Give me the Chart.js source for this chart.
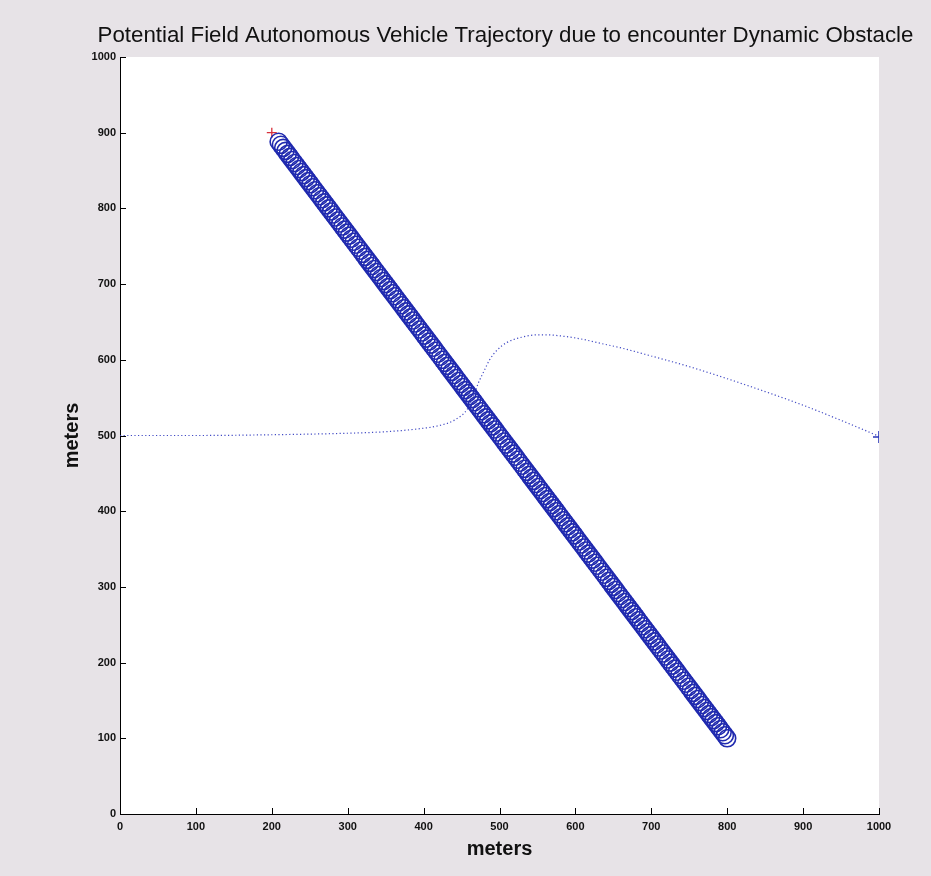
<!DOCTYPE html>
<html>
<head>
<meta charset="utf-8">
<script src="https://cdn.jsdelivr.net/npm/chart.js@4/dist/chart.umd.min.js"></script>
<style>
  html, body { margin: 0; padding: 0; background: #e7e3e7; }
  #wrap { width: 931px; height: 876px; }
</style>
</head>
<body>
<div id="wrap"><canvas id="chart" width="931" height="876"></canvas></div>
<script>
// vehicle path (dotted)
const vehicleX = [0, 100, 200, 300, 350, 395, 420, 440, 457, 465, 472, 480, 487, 497, 510, 530, 550, 562, 585, 610, 632, 659, 700, 750, 800, 850, 900, 950, 1000];
const vehicleY = [500, 500, 501, 503, 505, 509, 513, 520, 534, 550, 569, 586, 600, 613, 623, 630, 633, 633, 631, 627, 622, 616, 605, 591, 575, 558, 540, 520, 499];

// dynamic obstacle positions (circles)
const obstacleX = [209,212,215,218,221,224,227,230,233,236,239,242,245,248,251,254,257,260,263,266,269,272,275,278,281,284,287,290,293,296,299,302,305,308,311,314,317,320,323,326,329,332,335,338,341,344,347,350,353,356,359,362,365,368,371,374,377,380,383,386,389,392,395,398,401,404,407,410,413,416,419,422,425,428,431,434,437,440,443,446,449,452,455,458,461,464,467,470,473,476,479,482,485,488,491,494,497,500,503,506,509,512,515,518,521,524,527,530,533,536,539,542,545,548,551,554,557,560,563,566,569,572,575,578,581,584,587,590,593,596,599,602,605,608,611,614,617,620,623,626,629,632,635,638,641,644,647,650,653,656,659,662,665,668,671,674,677,680,683,686,689,692,695,698,701,704,707,710,713,716,719,722,725,728,731,734,737,740,743,746,749,752,755,758,761,764,767,770,773,776,779,782,785,788,791,794,797,800];
const obstacleY = [888,884,880,876,872,868,864,860,856,852,848,844,840,836,832,828,824,820,816,812,808,804,800,796,792,788,784,780,776,772,768,764,760,756,752,748,744,740,736,732,728,724,720,716,712,708,704,700,696,692,688,684,680,676,672,668,664,660,656,652,648,644,640,636,632,628,624,620,616,612,608,604,600,596,592,588,584,580,576,572,568,564,560,556,552,548,544,540,536,532,528,524,520,516,512,508,504,500,496,492,488,484,480,476,472,468,464,460,456,452,448,444,440,436,432,428,424,420,416,412,408,404,400,396,392,388,384,380,376,372,368,364,360,356,352,348,344,340,336,332,328,324,320,316,312,308,304,300,296,292,288,284,280,276,272,268,264,260,256,252,248,244,240,236,232,228,224,220,216,212,208,204,200,196,192,188,184,180,176,172,168,164,160,156,152,148,144,140,136,132,128,124,120,116,112,108,104,100];

// start markers
const obstacleStart = [{ x: 200, y: 900 }];
const vehicleGoal = [{ x: 1000, y: 498 }];

const axisMin = 0;
const axisMax = 1000;
const axisStep = 100;

const titleText = 'Potential Field Autonomous Vehicle Trajectory due to encounter Dynamic Obstacle';
const xLabel = 'meters';
const yLabel = 'meters';

const toPoints = (xs, ys) => xs.map((x, i) => ({ x: x, y: ys[i] }));

// gray figure background + white axes box
const backgroundPlugin = {
    id: 'figureBg',
    beforeDraw(chart) {
        const ctx = chart.ctx;
        const a = chart.chartArea;
        ctx.save();
        ctx.fillStyle = '#e7e3e7';
        ctx.fillRect(0, 0, chart.width, chart.height);
        ctx.fillStyle = '#ffffff';
        ctx.fillRect(a.left, a.top, a.right - a.left, a.bottom - a.top);
        ctx.restore();
    }
};

// matlab style ticks pointing into the plot, and the title over the axes
// (title is wider than the axes box, so the built-in one gets squeezed)
const axesDecorPlugin = {
    id: 'axesDecor',
    afterDraw(chart) {
        const ctx = chart.ctx;
        const xs = chart.scales.x;
        const ys = chart.scales.y;
        const a = chart.chartArea;
        ctx.save();
        ctx.strokeStyle = '#000';
        ctx.lineWidth = 1;
        ctx.beginPath();
        xs.ticks.forEach(t => {
            const px = Math.round(xs.getPixelForValue(t.value)) + 0.5;
            ctx.moveTo(px, xs.top);
            ctx.lineTo(px, xs.top - 6);
        });
        ys.ticks.forEach(t => {
            const py = Math.round(ys.getPixelForValue(t.value)) + 0.5;
            ctx.moveTo(ys.right, py);
            ctx.lineTo(ys.right + 6, py);
        });
        ctx.stroke();

        ctx.fillStyle = '#111';
        ctx.font = '22.3px "Liberation Sans"';
        ctx.textAlign = 'center';
        ctx.textBaseline = 'middle';
        ctx.fillText(titleText, (a.left + a.right) / 2 + 6, 36);
        ctx.restore();
    }
};

const tickFont = { family: 'Liberation Sans', size: 11, weight: 'bold' };
const labelFont = { family: 'Liberation Sans', size: 20, weight: 'bold' };

const ctx = document.getElementById('chart').getContext('2d');
new Chart(ctx, {
    type: 'scatter',
    data: {
        datasets: [
            {
                label: 'vehicle',
                data: toPoints(vehicleX, vehicleY),
                showLine: true,
                borderColor: 'rgba(45, 55, 190, 0.9)',
                borderWidth: 1.2,
                borderDash: [1.2, 2.4],
                cubicInterpolationMode: 'monotone',
                pointRadius: 0
            },
            {
                label: 'obstacle',
                data: toPoints(obstacleX, obstacleY),
                showLine: false,
                pointStyle: 'circle',
                pointRadius: 8.5,
                pointBorderWidth: 1.6,
                pointBorderColor: 'rgb(32, 42, 175)',
                pointBackgroundColor: 'rgba(0,0,0,0)'
            },
            {
                label: 'obstacle start',
                data: obstacleStart,
                showLine: false,
                pointStyle: 'cross',
                pointRadius: 5,
                pointBorderWidth: 1.3,
                pointBorderColor: '#d8323c'
            },
            {
                label: 'goal',
                data: vehicleGoal,
                showLine: false,
                pointStyle: 'cross',
                pointRadius: 6,
                pointBorderWidth: 1.6,
                pointBorderColor: '#2a36b8'
            }
        ]
    },
    options: {
        responsive: false,
        animation: false,
        layout: { padding: { left: 0, right: 52, top: 57, bottom: 0 } },
        plugins: {
            legend: { display: false },
            tooltip: { enabled: false },
            title: { display: false }
        },
        scales: {
            x: {
                type: 'linear',
                min: axisMin,
                max: axisMax,
                afterFit(scale) { scale.height = 62; },
                grid: { display: false, drawTicks: false },
                border: { display: true, color: '#000', width: 1 },
                ticks: {
                    stepSize: axisStep,
                    padding: 6,
                    maxRotation: 0,
                    color: '#111',
                    font: tickFont,
                    callback: v => String(v)
                },
                title: {
                    display: true,
                    text: xLabel,
                    color: '#111',
                    font: labelFont,
                    padding: { top: 0, bottom: 15 }
                }
            },
            y: {
                type: 'linear',
                min: axisMin,
                max: axisMax,
                afterFit(scale) { scale.width = 120; },
                grid: { display: false, drawTicks: false },
                border: { display: true, color: '#000', width: 1 },
                ticks: {
                    stepSize: axisStep,
                    padding: 4,
                    color: '#111',
                    font: tickFont,
                    callback: v => String(v)
                },
                title: {
                    display: true,
                    text: yLabel,
                    color: '#111',
                    font: labelFont,
                    padding: { top: 60, bottom: 0 }
                }
            }
        }
    },
    plugins: [backgroundPlugin, axesDecorPlugin]
});
</script>
</body>
</html>
